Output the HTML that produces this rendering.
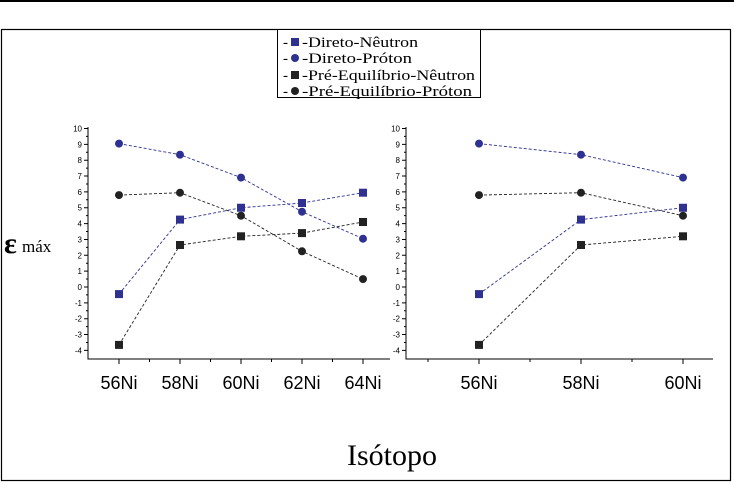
<!DOCTYPE html>
<html><head><meta charset="utf-8"><style>body{margin:0;background:#fff}svg{display:block}</style></head><body>
<svg width="734" height="485" xmlns="http://www.w3.org/2000/svg" font-family="Liberation Sans, sans-serif">
<line x1="0" y1="1" x2="734" y2="1" stroke="#000" stroke-width="2"/>
<rect x="1.5" y="29.5" width="729" height="451" fill="none" stroke="#000" stroke-width="1.2"/>
<rect x="277.5" y="29.5" width="203" height="68" fill="#fff" stroke="#000" stroke-width="1"/>
<g font-family="Liberation Serif, serif" font-size="15" fill="#000">
<text x="283" y="47">-</text><rect x="291" y="38" width="8" height="8" fill="#2e3192"/><text x="302" y="47" textLength="116" lengthAdjust="spacingAndGlyphs">-Direto-Nêutron</text>
<text x="283" y="63">-</text><circle cx="295" cy="58" r="4" fill="#2e3192"/><text x="302" y="63" textLength="110" lengthAdjust="spacingAndGlyphs">-Direto-Próton</text>
<text x="283" y="80">-</text><rect x="291" y="71" width="8" height="8" fill="#222"/><text x="302" y="80" textLength="173" lengthAdjust="spacingAndGlyphs">-Pré-Equilíbrio-Nêutron</text>
<text x="283" y="96">-</text><circle cx="295" cy="91" r="4" fill="#222"/><text x="302" y="96" textLength="170" lengthAdjust="spacingAndGlyphs">-Pré-Equilíbrio-Próton</text>
</g>
<text x="4" y="253" font-family="Liberation Serif, serif" font-size="30" font-weight="bold">ε</text>
<text x="22" y="252" font-family="Liberation Serif, serif" font-size="17">máx</text>
<text x="392" y="465" text-anchor="middle" font-family="Liberation Serif, serif" font-size="30">Isótopo</text>

<g stroke="#000" stroke-width="1" fill="none">
<path d="M88 127V359H390"/>
<path d="M84 128.5h4m-4 15.85h4m-4 15.85h4m-4 15.85h4m-4 15.85h4m-4 15.85h4m-4 15.85h4m-4 15.85h4m-4 15.85h4m-4 15.85h4m-4 15.85h4m-4 15.85h4m-4 15.85h4m-4 15.85h4m-4 15.85h4"/>
<path d="M86 136.4h2m-2 15.85h2m-2 15.85h2m-2 15.85h2m-2 15.85h2m-2 15.85h2m-2 15.85h2m-2 15.85h2m-2 15.85h2m-2 15.85h2m-2 15.85h2m-2 15.85h2m-2 15.85h2m-2 15.85h2"/>
<path d="M119 359v5M180 359v5M241 359v5M302 359v5M363 359v5M149.5 359v3M210.5 359v3M271.5 359v3M332.5 359v3"/>
<path d="M406 127V359H713"/>
<path d="M402 128.5h4m-4 15.85h4m-4 15.85h4m-4 15.85h4m-4 15.85h4m-4 15.85h4m-4 15.85h4m-4 15.85h4m-4 15.85h4m-4 15.85h4m-4 15.85h4m-4 15.85h4m-4 15.85h4m-4 15.85h4m-4 15.85h4"/>
<path d="M404 136.4h2m-2 15.85h2m-2 15.85h2m-2 15.85h2m-2 15.85h2m-2 15.85h2m-2 15.85h2m-2 15.85h2m-2 15.85h2m-2 15.85h2m-2 15.85h2m-2 15.85h2m-2 15.85h2m-2 15.85h2"/>
<path d="M479 359v5M581 359v5M683 359v5M428 359v3M530 359v3M632 359v3"/>
</g>
<g font-size="8" text-anchor="end" fill="#000">
<text x="82" y="131.5">10</text><text x="82" y="147.3">9</text><text x="82" y="163.2">8</text><text x="82" y="179">7</text><text x="82" y="194.9">6</text><text x="82" y="210.7">5</text><text x="82" y="226.6">4</text><text x="82" y="242.4">3</text><text x="82" y="258.3">2</text><text x="82" y="274.1">1</text><text x="82" y="290">0</text><text x="82" y="305.9">-1</text><text x="82" y="321.7">-2</text><text x="82" y="337.6">-3</text><text x="82" y="353.4">-4</text>
<text x="400" y="131.5">10</text><text x="400" y="147.3">9</text><text x="400" y="163.2">8</text><text x="400" y="179">7</text><text x="400" y="194.9">6</text><text x="400" y="210.7">5</text><text x="400" y="226.6">4</text><text x="400" y="242.4">3</text><text x="400" y="258.3">2</text><text x="400" y="274.1">1</text><text x="400" y="290">0</text><text x="400" y="305.9">-1</text><text x="400" y="321.7">-2</text><text x="400" y="337.6">-3</text><text x="400" y="353.4">-4</text>
</g>
<g font-size="18" text-anchor="middle" fill="#000">
<text x="119" y="389">56Ni</text><text x="180" y="389">58Ni</text><text x="241" y="389">60Ni</text><text x="302" y="389">62Ni</text><text x="363" y="389">64Ni</text>
<text x="479" y="389">56Ni</text><text x="581" y="389">58Ni</text><text x="683" y="389">60Ni</text>
</g>

<g fill="none" stroke-width="0.9" stroke-dasharray="3,2">
<polyline stroke="#222" points="119,344.9 180,245 241,236.3 302,233.1 363,222"/>
<polyline stroke="#222" points="119,195.1 180,192.7 241,215.7 302,251.3 363,279.1"/>
<polyline stroke="#2e3192" points="119,294.1 180,219.6 241,207.75 302,203 363,192.7"/>
<polyline stroke="#2e3192" points="119,143.6 180,154.7 241,177.6 302,211.7 363,238.7"/>
<polyline stroke="#222" points="479,344.9 581,245 683,236.3"/>
<polyline stroke="#222" points="479,195.1 581,192.7 683,215.7"/>
<polyline stroke="#2e3192" points="479,294.1 581,219.6 683,207.75"/>
<polyline stroke="#2e3192" points="479,143.6 581,154.7 683,177.6"/>
</g>
<g fill="#222">
<rect x="115" y="340.9" width="8" height="8"/><rect x="176" y="241" width="8" height="8"/><rect x="237" y="232.3" width="8" height="8"/><rect x="298" y="229.1" width="8" height="8"/><rect x="359" y="218" width="8" height="8"/>
<circle cx="119" cy="195.1" r="4"/><circle cx="180" cy="192.7" r="4"/><circle cx="241" cy="215.7" r="4"/><circle cx="302" cy="251.3" r="4"/><circle cx="363" cy="279.1" r="4"/>
<rect x="475" y="340.9" width="8" height="8"/><rect x="577" y="241" width="8" height="8"/><rect x="679" y="232.3" width="8" height="8"/>
<circle cx="479" cy="195.1" r="4"/><circle cx="581" cy="192.7" r="4"/><circle cx="683" cy="215.7" r="4"/>
</g>
<g fill="#2e3192">
<rect x="115" y="290.1" width="8" height="8"/><rect x="176" y="215.6" width="8" height="8"/><rect x="237" y="203.75" width="8" height="8"/><rect x="298" y="199" width="8" height="8"/><rect x="359" y="188.7" width="8" height="8"/>
<circle cx="119" cy="143.6" r="4"/><circle cx="180" cy="154.7" r="4"/><circle cx="241" cy="177.6" r="4"/><circle cx="302" cy="211.7" r="4"/><circle cx="363" cy="238.7" r="4"/>
<rect x="475" y="290.1" width="8" height="8"/><rect x="577" y="215.6" width="8" height="8"/><rect x="679" y="203.75" width="8" height="8"/>
<circle cx="479" cy="143.6" r="4"/><circle cx="581" cy="154.7" r="4"/><circle cx="683" cy="177.6" r="4"/>
</g>
</svg>
</body></html>
